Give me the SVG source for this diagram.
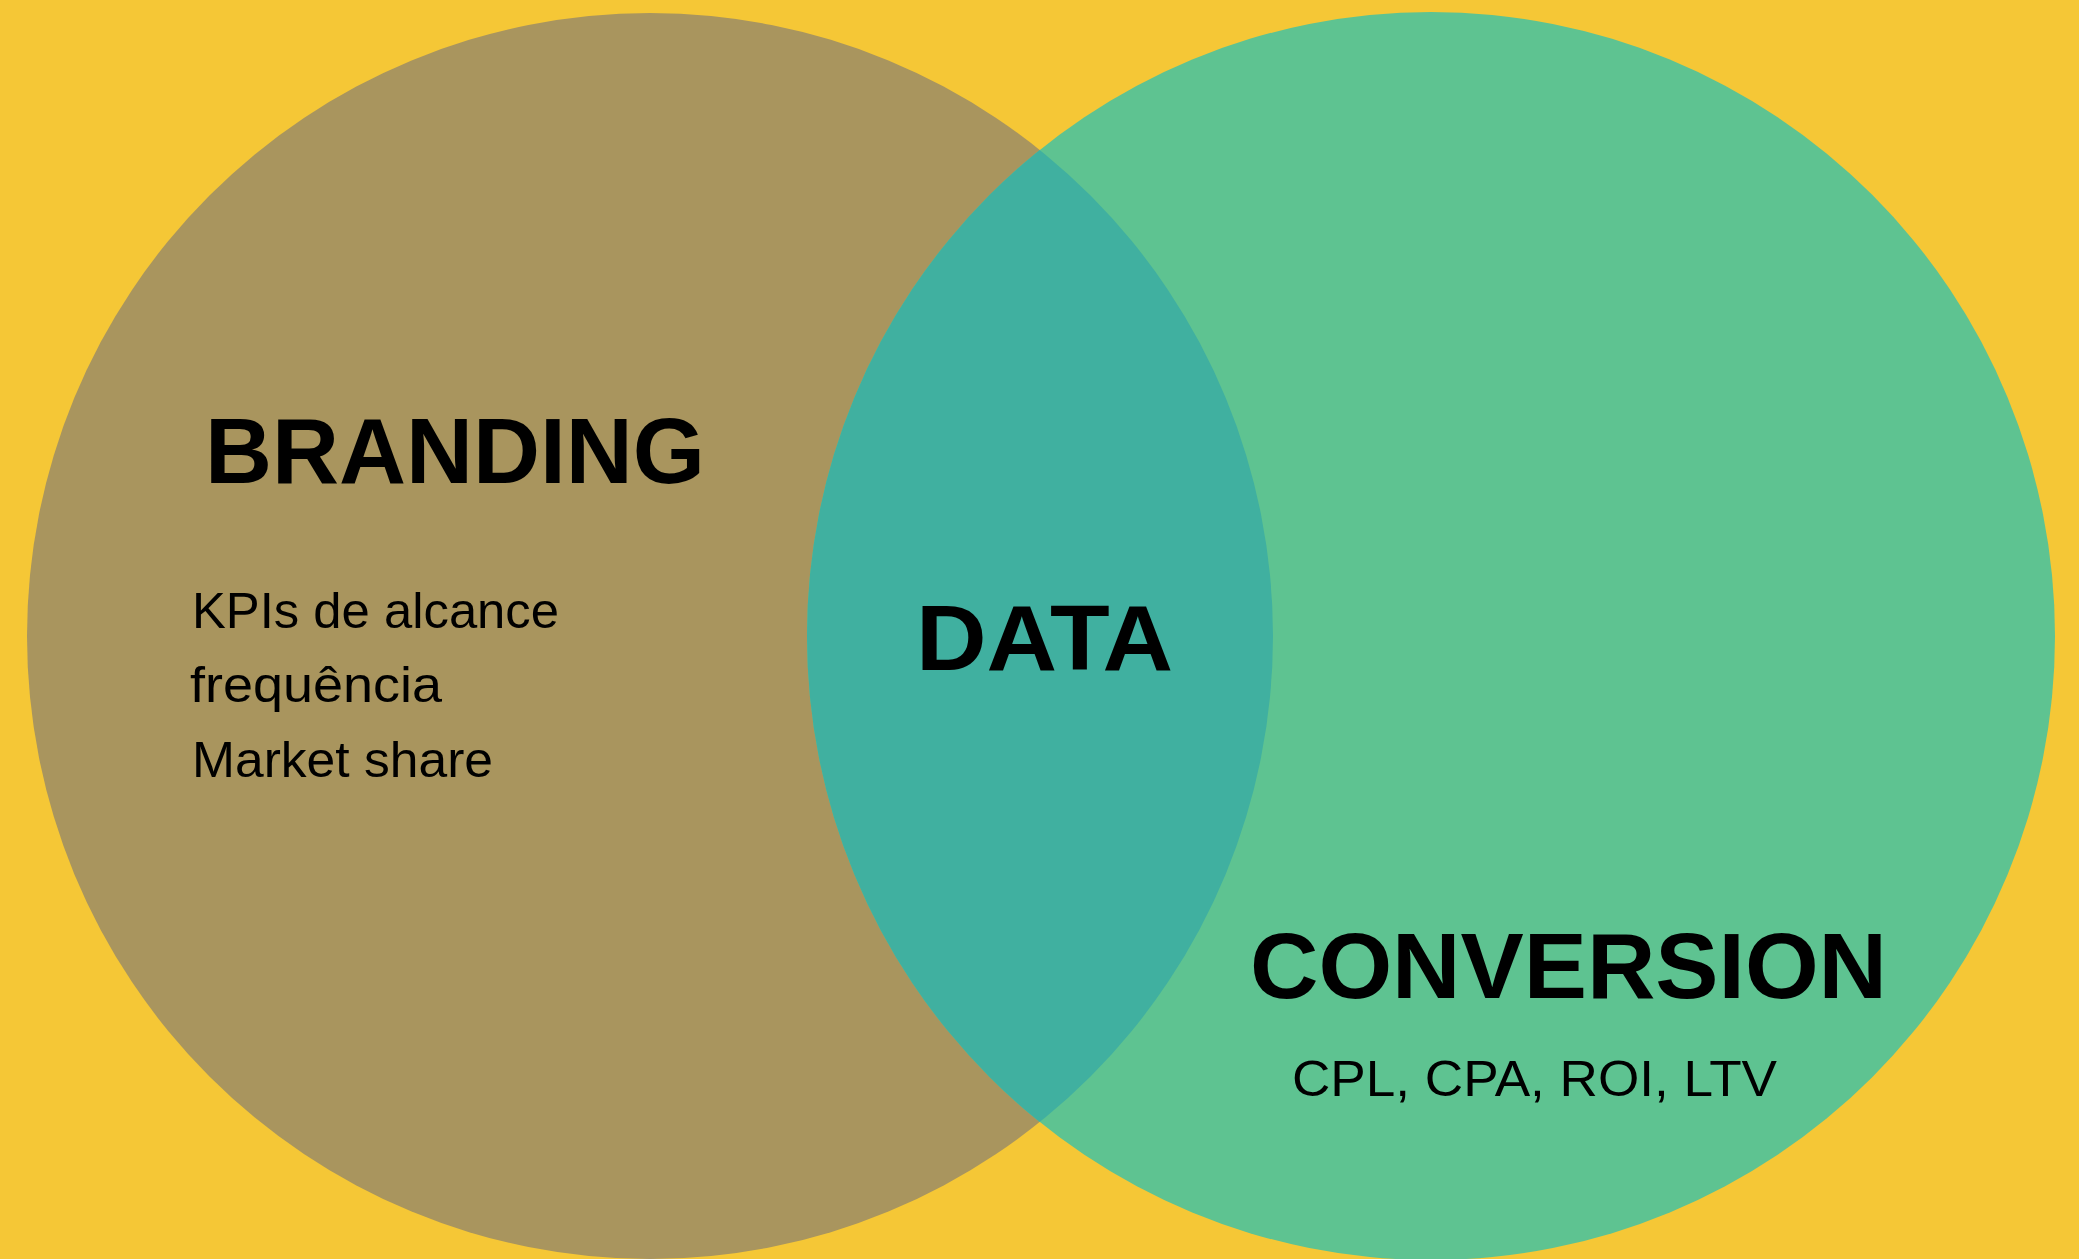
<svg xmlns="http://www.w3.org/2000/svg" width="2079" height="1259" viewBox="0 0 2079 1259">
<style>
.h{font-family:"Liberation Sans",Arial,sans-serif;font-weight:bold;font-size:92px;fill:#000}
.t{font-family:"Liberation Sans",Arial,sans-serif;font-size:50px;fill:#000}
</style>
<defs>
<clipPath id="lc"><circle cx="650" cy="636" r="623"/></clipPath>
</defs>
<rect width="2079" height="1259" fill="#F5C736"/>
<g id="branding">
<circle cx="650" cy="636" r="623" fill="#A9955E"/>
</g>
<g id="conversion">
<circle cx="1431" cy="636" r="624" fill="#5EC391"/>
</g>
<g id="data">
<circle cx="1431" cy="636" r="624" fill="#40B0A0" clip-path="url(#lc)"/>
</g>
<g id="connectors"></g>
<g id="labels">
<text class="h" x="205" y="483" textLength="500" lengthAdjust="spacingAndGlyphs">BRANDING</text>
<text class="t" x="192" y="628" textLength="367" lengthAdjust="spacingAndGlyphs">KPIs de alcance</text>
<text class="t" x="190" y="702" textLength="252" lengthAdjust="spacingAndGlyphs">frequência</text>
<text class="t" x="192" y="777" textLength="301" lengthAdjust="spacingAndGlyphs">Market share</text>
<text class="h" x="916" y="670" textLength="257" lengthAdjust="spacingAndGlyphs">DATA</text>
<text class="h" x="1250" y="998" textLength="637" lengthAdjust="spacingAndGlyphs">CONVERSION</text>
<text class="t" x="1292" y="1096" font-size="55" textLength="485" lengthAdjust="spacingAndGlyphs">CPL, CPA, ROI, LTV</text>
</g>
</svg>
